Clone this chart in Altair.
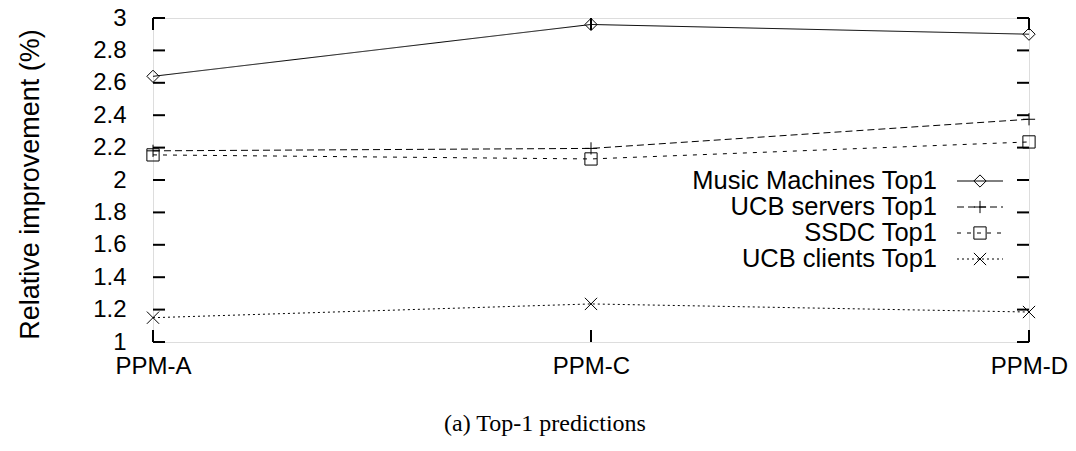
import altair as alt
import pandas as pd

categories = ["PPM-A", "PPM-C", "PPM-D"]
series = ["Music Machines Top1", "UCB servers Top1", "SSDC Top1", "UCB clients Top1"]
music_machines = [2.64, 2.96, 2.90]
ucb_servers = [2.18, 2.195, 2.375]
ssdc = [2.155, 2.13, 2.235]
ucb_clients = [1.15, 1.235, 1.185]
y_ticks = [1, 1.2, 1.4, 1.6, 1.8, 2, 2.2, 2.4, 2.6, 2.8, 3]

values = [music_machines, ucb_servers, ssdc, ucb_clients]
rows = []
for s, vals in zip(series, values):
    for c, v in zip(categories, vals):
        rows.append({"x": c, "y": v, "series": s})
df = pd.DataFrame(rows)

W, H = 876, 324
PAD_L, PAD_T = 153, 18
FONT = "Liberation Sans"

dashes = [[1, 0], [7, 4], [4, 6], [2, 3]]
shapes = [
    "M0,-1L1,0L0,1L-1,0Z",
    "M-1,0L1,0M0,-1L0,1",
    "M-1,-1L1,-1L1,1L-1,1Z",
    "M-1,-1L1,1M-1,1L1,-1",
]


def X():
    return alt.X(
        "x:N",
        scale=alt.Scale(type="point", domain=categories, padding=0),
        axis=alt.Axis(
            title=None, labelAngle=0, ticks=False, domain=False, grid=False,
            labelPadding=31, labelBaseline="alphabetic", labelFontSize=24,
            labelFont=FONT, labelColor="black", labelOverlap=False, labelFlush=False,
        ),
    )


def Y():
    return alt.Y(
        "y:Q",
        scale=alt.Scale(domain=[1, 3], nice=False, zero=False),
        axis=alt.Axis(
            values=y_ticks, format="~g", ticks=False, domain=False, grid=False,
            labelPadding=27, labelFontSize=24, labelFont=FONT, labelColor="black",
            labelOverlap=False, labelFlush=False,
            title="Relative improvement (%)", titleFontSize=27, titleFont=FONT,
            titleFontWeight="normal", titleColor="black", titleAngle=270,
            titleX=-115, titleY=166, titleBaseline="alphabetic", titleAlign="center",
        ),
    )


base = alt.Chart(df)
lines = base.mark_line(strokeWidth=1, color="black").encode(
    x=X(), y=Y(),
    strokeDash=alt.StrokeDash("series:N", scale=alt.Scale(domain=series, range=dashes), legend=None),
)
points = base.mark_point(filled=False, size=150, strokeWidth=1, color="black", opacity=1).encode(
    x=X(), y=Y(),
    shape=alt.Shape("series:N", scale=alt.Scale(domain=series, range=shapes), legend=None),
)

ydf = pd.DataFrame({"y": y_ticks})
xdf = pd.DataFrame({"x": categories})
tick_left = alt.Chart(ydf).mark_rule(color="black", strokeWidth=2).encode(
    y=Y(), x=alt.value(0), x2=alt.value(12))
tick_right = alt.Chart(ydf).mark_rule(color="black", strokeWidth=2).encode(
    y=Y(), x=alt.value(W - 12), x2=alt.value(W))
tick_bottom = alt.Chart(xdf).mark_rule(color="black", strokeWidth=2).encode(
    x=X(), y=alt.value(H - 12), y2=alt.value(H))
tick_top = alt.Chart(xdf).mark_rule(color="black", strokeWidth=2).encode(
    x=X(), y=alt.value(0), y2=alt.value(12))

legend_rows = [181, 207, 233, 259]
legend_layers = []
for i, s in enumerate(series):
    ly = legend_rows[i] - PAD_T
    ldf = pd.DataFrame({"series": [s]})
    legend_layers.append(
        alt.Chart(ldf).mark_text(align="right", baseline="middle", fontSize=25.5, font=FONT, color="black")
        .encode(text="series:N", x=alt.value(937 - PAD_L), y=alt.value(ly))
    )
    rule_kwargs = dict(color="black", strokeWidth=1)
    if i > 0:
        rule_kwargs["strokeDash"] = dashes[i]
    legend_layers.append(
        alt.Chart(ldf).mark_rule(**rule_kwargs)
        .encode(x=alt.value(957 - PAD_L), x2=alt.value(1003 - PAD_L), y=alt.value(ly))
    )
    legend_layers.append(
        alt.Chart(ldf).mark_point(shape=shapes[i], size=150, filled=False, strokeWidth=1,
                                  color="black", opacity=1)
        .encode(x=alt.value(980 - PAD_L), y=alt.value(ly))
    )

chart = alt.layer(
    lines, points, tick_left, tick_right, tick_bottom, tick_top, *legend_layers
).properties(
    width=W, height=H,
    padding={"left": PAD_L, "top": PAD_T, "right": 1076 - PAD_L - W, "bottom": 451 - PAD_T - H},
    autosize="none",
    title=alt.TitleParams(
        text="(a) Top-1 predictions", orient="bottom", anchor="middle",
        font="Liberation Serif", fontSize=24, fontWeight="normal", color="black",
        offset=53, dx=-46, baseline="alphabetic",
    ),
).configure_view(stroke="black", strokeWidth=2).configure(font=FONT, background="white")

chart.save("out.html", embed_options={"renderer": "svg", "actions": False})
